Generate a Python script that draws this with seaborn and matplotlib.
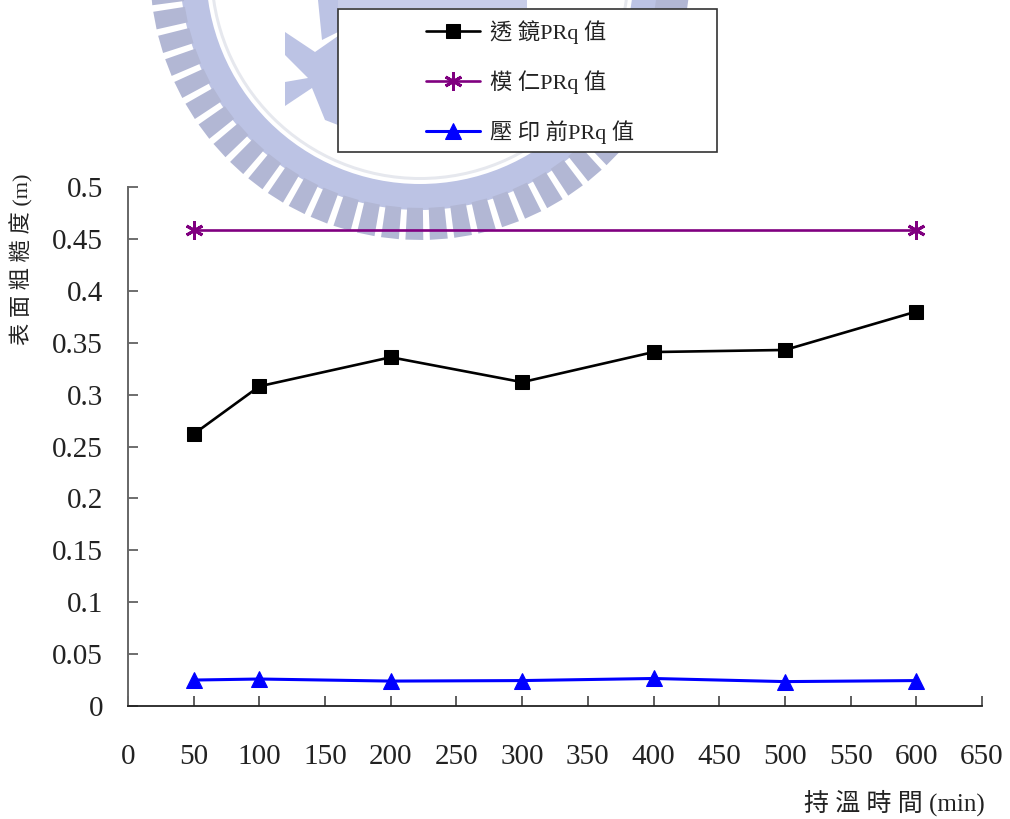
import numpy as np
import seaborn as sns
import matplotlib.pyplot as plt
from matplotlib.patches import Rectangle, Wedge, Polygon

# chart values
time_lens = [50, 100, 200, 300, 400, 500, 600]
lens_prq = [0.262, 0.308, 0.336, 0.312, 0.341, 0.343, 0.380]
time_mold = [50, 600]
mold_prq = [0.459, 0.459]
before_prq = [0.025, 0.026, 0.024, 0.0245, 0.0265, 0.0235, 0.0245]

x_ticks = list(range(0, 651, 50))
y_ticks = [0, 0.05, 0.1, 0.15, 0.2, 0.25, 0.3, 0.35, 0.4, 0.45, 0.5]
y_labels = ['0', '0.05', '0.1', '0.15', '0.2', '0.25', '0.3', '0.35', '0.4', '0.45', '0.5']
names = ['透 鏡PRq 值', '模 仁PRq 值', '壓 印 前PRq 值']

W, H = 1010, 819
FONT = ['Liberation Serif', 'Noto Sans CJK TC', 'DejaVu Sans']

sns.set_theme(style='white')
plt.rcParams['font.family'] = FONT

fig = plt.figure(figsize=(W / 100, H / 100), dpi=100, facecolor='white')

# watermark seal behind the chart, in pixel coordinates
bg = fig.add_axes([0, 0, 1, 1], zorder=0)
bg.set_xlim(0, W)
bg.set_ylim(H, 0)
bg.axis('off')
seal = '#bcc3e4'
tooth = '#b2b7d4'
cx, cy, r = 420, -30, 270
bg.add_patch(Wedge((cx, cy), r - 30, 0, 180, width=26, color=seal, lw=0))
bg.add_patch(Wedge((cx, cy), r - 60, 0, 180, width=3, color='#e6e8ee', lw=0))
for ang in np.arange(8, 176, 5.2):
    a = np.radians(ang)
    t = np.radians(1.9)
    pts = [(cx + (r - 32) * np.cos(a + s * t), cy + (r - 32) * np.sin(a + s * t)) for s in (-1, 1)]
    pts += [(cx + r * np.cos(a + s * t), cy + r * np.sin(a + s * t)) for s in (1, -1)]
    bg.add_patch(Polygon(pts, closed=True, color=tooth, lw=0))
bg.add_patch(Polygon([(285, 32), (315, 52), (338, 36), (338, 125), (325, 120), (312, 88),
                      (285, 106), (285, 82), (308, 78), (285, 55)],
                     closed=True, color=seal, lw=0))
bg.add_patch(Polygon([(318, 0), (338, 0), (338, 32), (322, 40)], closed=True, color=seal, lw=0))
bg.add_patch(Polygon([(338, 0), (527, 0), (527, 8), (338, 8)], closed=True, color='#c8cde8', lw=0))

# main axes, frame placed to match the reference pixels
left, right, top, bottom = 128, 982, 187, 706
ax = fig.add_axes([left / W, 1 - bottom / H, (right - left) / W, (bottom - top) / H], zorder=1)
ax.patch.set_alpha(0)

sns.lineplot(x=time_lens, y=lens_prq, ax=ax, color='black', lw=1.9, marker='s', ms=10.5,
             mec='black', label=names[0], errorbar=None)
sns.lineplot(x=time_mold, y=mold_prq, ax=ax, color='#800080', lw=1.9, marker=(6, 2, 0), ms=13,
             mec='#800080', mew=2.1, label=names[1], errorbar=None)
sns.lineplot(x=time_lens, y=before_prq, ax=ax, color='#0000ff', lw=2.2, marker='^', ms=11.5,
             mec='#0000ff', label=names[2], errorbar=None)

ax.set_xlim(0, 650)
ax.set_ylim(0, 0.5)
ax.set_xticks(x_ticks)
ax.set_yticks(y_ticks)
ax.set_yticklabels(y_labels)
ax.tick_params(axis='x', direction='in', length=7.5, width=1.1, color='#333333',
               labelsize=21, pad=27, labelcolor='#222222', bottom=True)
ax.tick_params(axis='y', direction='in', length=7.5, width=1.2, color='#555555',
               labelsize=21, pad=18, labelcolor='#222222', left=True)
for side in ['top', 'right']:
    ax.spines[side].set_visible(False)
ax.spines['left'].set_color('#666666')
ax.spines['left'].set_linewidth(1.4)
ax.spines['bottom'].set_color('#222222')
ax.spines['bottom'].set_linewidth(1.3)

# legend box with the entries centred in it
bx, by, bw, bh = 338, 9, 379, 143
fig.add_artist(Rectangle((bx / W, 1 - (by + bh) / H), bw / W, bh / H, transform=fig.transFigure,
                         fc='white', ec='#333333', lw=1.2, zorder=2))
handles, labels = ax.get_legend_handles_labels()
ax.get_legend().remove()
leg = fig.legend(handles, labels, loc='center', bbox_to_anchor=(530 / W, 1 - 82 / H),
                 frameon=False, fontsize=16, labelspacing=1.2, handlelength=2.43, handletextpad=0.45,
                 alignment='left', labelcolor='#222222')
leg.set_zorder(3)

fig.text(22 / W, 1 - 259 / H, '表 面 粗 糙 度 (m)', rotation=90, ha='center', va='center',
         fontsize=16, color='#222222')
fig.text(985 / W, 1 - 803 / H, '持 溫 時 間 (min)', ha='right', va='center', fontsize=18, color='#222222')

fig.savefig('out.png', dpi=100, facecolor='white')
